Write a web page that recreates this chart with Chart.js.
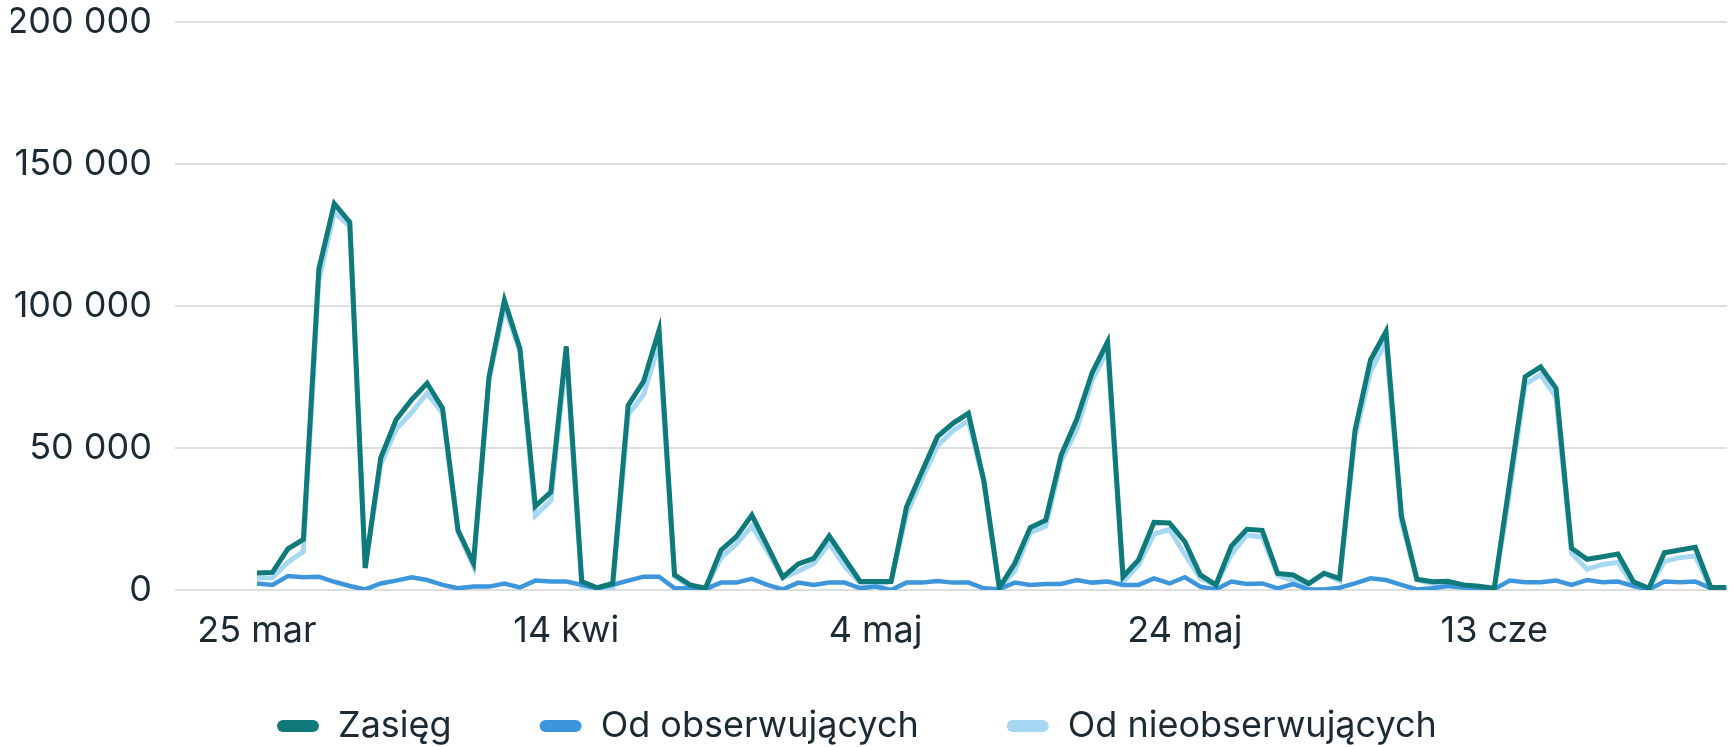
<!DOCTYPE html>
<html><head><meta charset="utf-8">
<script src="https://cdn.jsdelivr.net/npm/chart.js@4.4.0/dist/chart.umd.min.js"></script>
<style>html,body{margin:0;padding:0;background:#fff;}#wrap{width:1733px;height:747px;}</style>
</head><body><div id="wrap"><canvas id="c" width="1733" height="747"></canvas></div>
<script>
const seriesNames = ['Zasięg', 'Od obserwujących', 'Od nieobserwujących'];
// daily values, 25 mar .. 28 cze
const zasieg = [6000,6200,14500,17800,113000,136000,129500,7800,46500,60000,
67000,72800,64000,21000,9500,75000,102000,85000,29500,34500,
85800,3000,800,2300,65000,73500,91500,5300,1800,600,
14000,18800,26400,15500,4500,9200,11100,19000,11000,3000,
3000,3000,29300,41700,54000,58700,62200,38500,800,9400,
22000,24600,47500,60000,76500,87400,4700,10600,23800,23600,
17000,5300,1800,15500,21400,21000,5800,5300,2300,5900,
4000,56300,81000,91000,26000,3800,2900,3100,1800,1300,
600,38000,75100,78600,71000,14700,10800,11700,12700,2900,
600,13100,14100,15000,900,900];
const obserwujacy = [2300,1800,4900,4500,4700,2900,1400,200,2300,3300,
4500,3500,1800,600,1200,1200,2300,900,3300,3000,
3000,1800,600,1800,3300,4700,4700,600,600,300,
2600,2600,3900,1800,200,2600,1800,2600,2600,600,
1200,0,2600,2600,3200,2600,2600,600,300,2600,
1800,2100,2100,3500,2600,3000,1800,1800,4100,2300,
4500,1200,200,3000,2100,2300,600,2100,200,200,
800,2300,4100,3500,1800,200,600,1400,900,600,
300,3300,2700,2700,3300,1800,3500,2700,3000,1400,
200,3000,2700,3000,600,600];
const nieobserwujacy = [4200,4300,9800,13500,109000,133000,128000,7600,44200,56700,
62500,69300,62200,20400,8300,73800,99700,84100,26200,31500,
82800,1200,200,500,61700,68800,86800,4700,1200,300,
11400,16200,22500,13700,4300,6600,9300,16400,8400,2400,
1800,3000,26700,39100,50800,56100,59600,37900,500,6800,
20200,22500,45400,56500,73900,84400,2900,8800,19700,21300,
12500,4100,1600,12500,19300,18700,5200,3200,2100,5700,
3200,54000,76900,87500,24200,3600,2300,1700,900,700,
300,34700,72400,75900,67700,12900,7300,9000,9700,1500,
400,10100,11400,12000,300,300];
const tickDays = [0, 20, 40, 60, 80];
const tickLabels = ['25 mar', '14 kwi', '4 maj', '24 maj', '13 cze'];
const yTicks = [0, 50000, 100000, 150000, 200000];

const colors = ['#0f7a79', '#3d96dc', '#a6d8f3'];
const widths = [5, 4.5, 5];
const series = [zasieg, obserwujacy, nieobserwujacy];
const toPoints = arr => arr.map((v, i) => ({x: i, y: v}));

const fmt = v => String(v).replace(/\B(?=(\d{3})+(?!\d))/g, ' ');
const FONT = 'Inter, "Noto Sans", sans-serif';
const TEXT = '#1c2b33';

// bottom legend drawn on the canvas from the chart's own datasets
const bottomLegend = {
  id: 'bottomLegend',
  afterDraw(chart) {
    const ctx = chart.ctx;
    ctx.save();
    ctx.font = '36px ' + FONT;
    ctx.textBaseline = 'alphabetic';
    ctx.textAlign = 'left';
    let x = 277;
    const cy = 726;
    chart.data.datasets.forEach(ds => {
      ctx.fillStyle = ds.borderColor;
      ctx.beginPath();
      if (ctx.roundRect) ctx.roundRect(x, cy - 6, 42, 12, 6); else ctx.rect(x, cy - 6, 42, 12);
      ctx.fill();
      ctx.fillStyle = TEXT;
      const tx = x + 61;
      ctx.fillText(ds.label, tx, 737);
      x = tx + ctx.measureText(ds.label).width + 88;
    });
    ctx.restore();
  }
};

new Chart(document.getElementById('c'), {
  type: 'line',
  data: {
    datasets: series.map((s, k) => ({
      label: seriesNames[k],
      data: toPoints(s),
      borderColor: colors[k],
      backgroundColor: colors[k],
      borderWidth: widths[k],
      pointRadius: 0,
      tension: 0,
      fill: false
    }))
  },
  options: {
    responsive: false,
    animation: false,
    devicePixelRatio: 1,
    layout: {padding: {left: 11, right: 6, top: 22, bottom: 97}},
    scales: {
      x: {
        type: 'linear',
        min: -5.3,
        max: 95.05,
        grid: {display: false, drawTicks: false},
        border: {display: false},
        afterBuildTicks: ax => { ax.ticks = tickDays.map(v => ({value: v})); },
        afterFit: ax => { ax.height = 60; ax.paddingLeft = 0; ax.paddingRight = 0; },
        ticks: {
          autoSkip: false,
          maxRotation: 0,
          padding: 20,
          color: TEXT,
          font: {family: FONT, size: 36},
          callback: v => tickLabels[tickDays.indexOf(v)]
        }
      },
      y: {
        min: 0,
        max: 200000,
        afterBuildTicks: ax => { ax.ticks = yTicks.map(v => ({value: v})); },
        afterFit: ax => { ax.width = 164; ax.paddingTop = 0; ax.paddingBottom = 0; },
        grid: {color: '#dedede', lineWidth: 2, drawTicks: false},
        border: {display: false},
        ticks: {
          padding: 23,
          color: TEXT,
          font: {family: FONT, size: 36},
          callback: v => fmt(v)
        }
      }
    },
    plugins: {
      tooltip: {enabled: false},
      legend: {display: false}
    }
  },
  plugins: [bottomLegend]
});
</script>
</body></html>
